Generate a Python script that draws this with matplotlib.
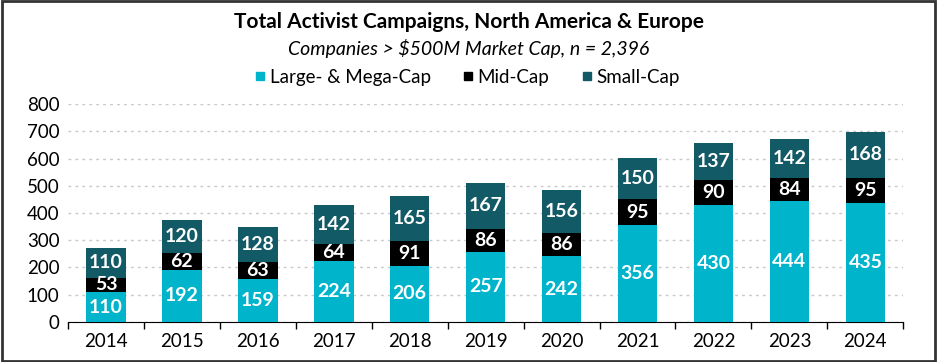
import matplotlib.pyplot as plt
from matplotlib.lines import Line2D
from matplotlib.patches import Rectangle
import numpy as np

plt.rcParams['font.family'] = ['Lato', 'DejaVu Sans']

years = ['2014', '2015', '2016', '2017', '2018', '2019', '2020', '2021', '2022', '2023', '2024']
large_cap = [110, 192, 159, 224, 206, 257, 242, 356, 430, 444, 435]
mid_cap = [53, 62, 63, 64, 91, 86, 86, 95, 90, 84, 95]
small_cap = [110, 120, 128, 142, 165, 167, 156, 150, 137, 142, 168]

c_large = '#00B4CC'
c_mid = '#000000'
c_small = '#115A66'

fig = plt.figure(figsize=(9.38, 3.62), dpi=100)
ax = fig.add_axes([0.0725, 0.1105, 0.8905, 0.6022])

x = np.arange(len(years))
w = 0.52
large = np.array(large_cap)
mid = np.array(mid_cap)
small = np.array(small_cap)

ax.bar(x, large, w, color=c_large, zorder=3)
ax.bar(x, mid, w, bottom=large, color=c_mid, zorder=3)
ax.bar(x, small, w, bottom=large + mid, color=c_small, zorder=3)

# value labels inside each segment
for i in range(len(x)):
    ax.text(x[i], large[i] / 2, str(large[i]), ha='center', va='center',
            color='white', fontsize=14, fontweight='bold', zorder=4)
    ax.text(x[i], large[i] + mid[i] / 2, str(mid[i]), ha='center', va='center',
            color='white', fontsize=14, fontweight='bold', zorder=4)
    ax.text(x[i], large[i] + mid[i] + small[i] / 2, str(small[i]), ha='center', va='center',
            color='white', fontsize=14, fontweight='bold', zorder=4)

ax.set_xlim(-0.5, len(years) - 0.5)
ax.set_ylim(0, 800)
ax.set_yticks(range(0, 801, 100))
ax.tick_params(axis='y', length=0, labelsize=13.5, pad=6)
ax.set_xticks(x)
ax.set_xticklabels(years)
ax.tick_params(axis='x', which='major', length=0, labelsize=13.5, pad=8)
ax.set_xticks(np.arange(-0.5, len(years), 1), minor=True)
ax.tick_params(axis='x', which='minor', length=5, color='black', width=1)

ax.yaxis.grid(True, linestyle=(0, (2, 3)), color='#C8C8C8', linewidth=1, zorder=0)
for s in ['top', 'right', 'left']:
    ax.spines[s].set_visible(False)
ax.spines['bottom'].set_color('black')

fig.text(0.5, 0.94, 'Total Activist Campaigns, North America & Europe',
         ha='center', va='center', fontsize=15, fontweight='bold')
fig.text(0.5, 0.866, 'Companies > $500M Market Cap, n = 2,396',
         ha='center', va='center', fontsize=14, style='italic')

handles = [Line2D([], [], marker='s', linestyle='', color=c, markersize=6)
           for c in (c_large, c_mid, c_small)]
fig.legend(handles, ['Large- & Mega-Cap', 'Mid-Cap', 'Small-Cap'],
           loc='center', bbox_to_anchor=(0.497, 0.787), ncol=3, frameon=False,
           fontsize=13.5, handletextpad=0.1, columnspacing=1.6, handlelength=0.8)

fig.patches.append(Rectangle((0.002, 0.003), 0.995, 0.993, transform=fig.transFigure,
                             fill=False, edgecolor='#333333', linewidth=2))

fig.savefig('out.png', dpi=100)
